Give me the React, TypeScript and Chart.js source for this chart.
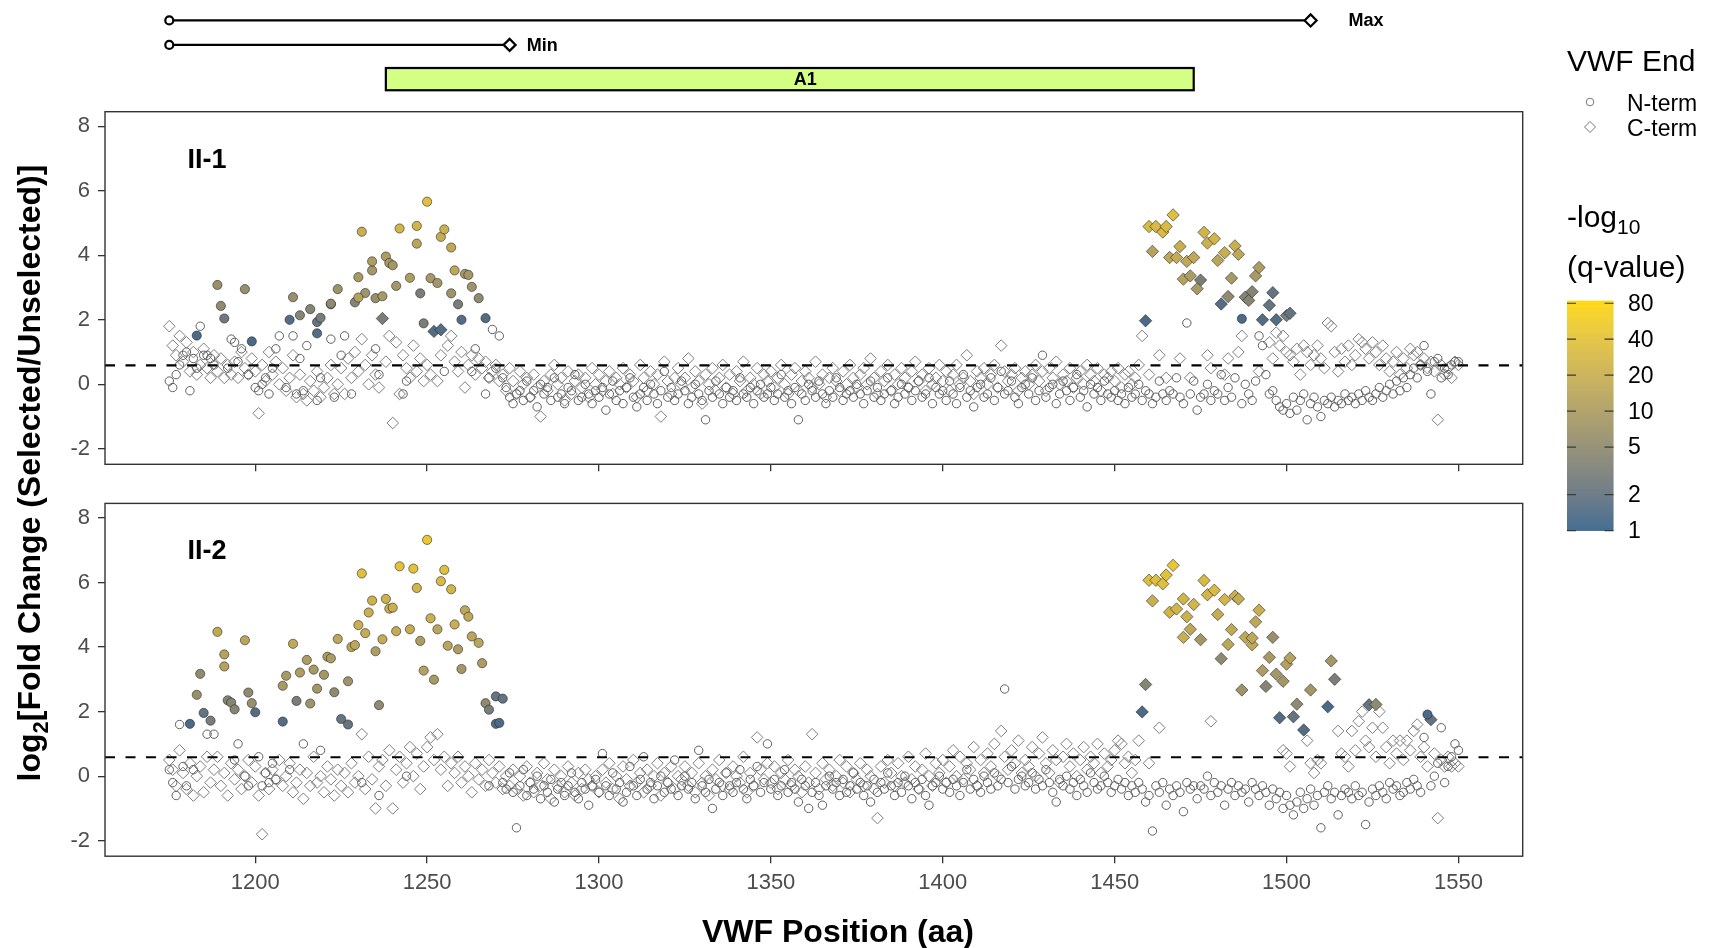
import React, { useEffect, useRef } from "react";
import { Chart, registerables } from "chart.js";

Chart.register(...registerables);

// ------------------------------------------------------------------ data
const _ = null;
const POS_START = 1175; // residue of index 0 in the per-residue background arrays
const X_TICKS = [1200, 1250, 1300, 1350, 1400, 1450, 1500, 1550];
const Y_TICKS = [-2, 0, 2, 4, 6, 8];
const Q_TICKS = [1, 2, 5, 10, 20, 40, 80];
const Q_LIMITS = [1, 84];
const THRESHOLD = 0.585;

const MAX_FRAGMENT = [1175, 1507];
const MIN_FRAGMENT = [1175, 1274];
const A1_DOMAIN = [1238, 1473];
const A1_LABEL_POS = 1360;
const MAX_LABEL_POS = 1518;
const MIN_LABEL_POS = 1279;
const PANEL_LABEL_POS = 1186;
const PANEL_LABEL_Y = 6.95;

// Panel II-1: non-significant points, one value per residue (null = none)
const P1_N_WHITE = [
  0.1,-0.1,0.3,0.6,0.9,1.0,-0.2,0.8,0.5,1.8,0.9,0.9,0.8,0.6,_,_,_,0.5,1.4,1.3,0.7,1.1,_,0.3,_,
  -0.1,-0.2,0.0,0.2,-0.3,0.5,1.1,1.5,_,-0.1,_,1.5,-0.3,0.8,-0.2,1.2,_,_,-0.5,0.2,_,_,1.4,-0.4,_,
  0.9,1.5,_,-0.3,_,_,_,_,_,_,1.1,0.3,_,_,_,_,_,_,-0.3,0.1,_,_,_,_,_,
  _,_,_,_,_,0.4,_,_,_,_,_,_,_,0.4,1.1,_,_,-0.3,0.2,1.7,0.5,1.5,0.2,-0.1,-0.4,
  -0.6,-0.3,-0.2,-0.5,0.1,-0.4,-0.2,-0.7,0.0,-0.3,-0.1,-0.5,0.2,-0.4,-0.3,-0.6,-0.1,-0.2,0.3,-0.5,-0.4,0.0,-0.3,-0.6,-0.2,
  -0.4,-0.1,-0.8,-0.3,0.1,-0.5,-0.2,-0.6,-0.1,0.2,-0.4,-0.7,-0.3,-0.1,-0.5,0.0,-0.3,-0.6,-0.2,0.4,-0.4,-0.1,-0.5,-0.3,0.1,
  -0.2,-0.6,-0.4,0.0,-0.3,-0.5,-1.1,-0.2,-0.4,0.1,-0.3,-0.6,-0.1,-0.4,-0.2,-0.5,0.2,-0.3,-0.4,-0.1,-0.6,-0.2,0.0,-0.4,-0.3,
  -0.1,-0.5,-0.3,0.3,-0.4,-0.2,-0.6,-0.1,-1.1,-0.3,-0.5,0.0,-0.2,-0.4,0.1,-0.3,-0.6,-0.2,-0.4,0.2,-0.1,-0.5,-0.3,-0.2,-0.4,
  0.0,-0.3,-0.6,-0.2,0.1,-0.4,-0.1,-0.5,-0.3,0.2,-0.2,-0.6,-0.4,0.0,-0.3,-0.1,-0.5,-0.2,0.1,-0.4,-0.3,0.2,-0.6,-0.1,-0.3,
  -0.2,-0.5,0.1,-0.3,-0.6,-0.1,0.3,-0.4,-0.2,-0.7,-0.1,0.0,-0.4,-0.3,0.2,-0.5,-0.1,0.4,-0.3,-0.2,0.1,-0.4,-0.6,-0.1,0.0,
  -0.3,0.2,-0.5,-0.2,0.9,-0.4,-0.1,0.0,-0.6,-0.3,0.1,-0.2,-0.5,-0.1,0.3,-0.4,-0.2,-0.7,0.0,-0.3,-0.1,-0.5,0.1,-0.3,-0.4,
  -0.2,-0.5,-0.3,-0.6,-0.1,-0.4,-0.3,0.0,-0.5,-0.2,-0.3,-0.6,-0.4,0.1,-0.3,-0.5,-0.2,-0.3,0.2,-0.4,-0.6,1.9,-0.3,0.1,-0.8,
  -0.4,-0.3,0.0,-0.5,-0.2,-0.3,0.3,-0.5,-0.1,-0.4,0.2,_,-0.6,0.0,-0.3,-0.5,0.1,1.5,1.2,0.3,-0.3,-0.2,-0.5,-0.7,-0.8,
  -0.6,-0.9,-0.4,-0.8,-0.5,-0.3,-1.1,-0.6,-0.4,-0.7,-1.0,-0.5,-0.6,-0.4,-0.7,-0.5,-0.6,-0.3,-0.5,-0.4,-0.6,-0.3,-0.5,-0.2,-0.4,
  -0.5,-0.3,-0.1,-0.4,-0.2,0.0,-0.3,0.1,-0.2,0.2,-0.1,0.3,0.5,0.2,0.6,1.2,0.4,-0.3,0.7,0.8,0.2,0.5,0.3,0.6,0.7,
  0.7,
];
const P1_C_WHITE = [
  1.8,1.2,0.9,1.5,0.7,1.3,0.4,1.0,0.3,0.6,1.1,0.5,0.2,0.9,0.4,0.8,0.2,0.6,0.3,0.7,0.2,1.0,0.5,0.3,0.8,
  0.4,-0.9,0.6,0.1,1.0,0.3,0.7,0.0,0.5,-0.2,0.2,0.9,-0.4,0.3,-0.3,-0.5,0.1,-0.2,0.4,-0.4,-0.1,0.2,0.6,-0.3,0.0,
  0.5,-0.3,0.8,0.2,1.0,0.4,1.4,0.6,0.0,0.9,0.3,-0.1,_,0.7,1.5,-1.2,1.3,-0.3,0.9,0.5,0.2,1.2,0.4,0.8,0.1,
  0.6,0.3,_,0.1,0.9,_,1.2,1.5,0.7,0.4,1.0,-0.1,0.6,0.9,0.3,0.8,0.5,0.7,0.2,0.4,0.6,0.1,0.3,-0.2,0.5,
  0.1,-0.3,0.4,0.0,0.2,-0.4,0.3,-0.1,-1.0,0.1,-0.2,0.3,0.6,0.0,0.2,-0.5,0.4,-0.3,0.1,0.3,-0.1,0.2,-0.4,0.5,0.0,
  0.3,-0.2,0.1,0.4,-0.3,0.2,0.0,0.5,-0.1,0.3,0.1,-0.4,0.6,0.2,-0.2,0.4,0.0,0.3,-1.0,0.7,0.1,-0.3,0.2,0.5,0.0,
  0.2,0.8,-0.1,0.4,0.1,-0.6,0.3,0.0,0.5,-0.2,0.2,0.6,-0.1,0.3,-0.3,0.4,0.1,0.7,-0.2,0.2,0.0,0.5,-0.3,0.3,0.1,
  0.4,-0.1,0.2,0.6,0.0,-0.3,0.3,0.5,-0.2,0.1,0.4,0.2,-0.1,0.7,0.0,0.3,-0.4,0.2,0.5,0.1,-0.2,0.4,0.0,0.6,0.2,
  -0.1,0.3,0.5,0.0,0.8,0.2,-0.3,0.4,0.1,0.6,-0.2,0.3,0.0,0.5,0.2,-0.1,0.4,0.7,0.1,0.3,-0.2,0.5,0.0,0.2,0.6,
  0.1,0.4,-0.2,0.3,0.6,0.0,0.2,0.9,0.1,-0.3,0.4,0.2,0.5,0.0,0.3,0.6,-0.1,1.2,0.4,0.1,0.3,0.5,-0.2,0.2,0.4,
  0.0,0.3,0.6,0.1,0.4,-0.2,0.5,0.2,0.7,0.0,0.3,0.1,0.5,-0.1,0.2,0.4,0.0,0.6,0.3,0.1,0.5,-0.2,0.3,0.2,0.4,
  0.1,0.5,-0.1,0.3,0.4,0.0,0.2,0.6,1.5,_,0.3,_,_,0.9,_,0.2,_,_,_,0.8,_,_,0.2,_,_,
  _,_,0.9,0.5,_,_,_,0.3,0.8,_,_,1.0,1.5,_,_,_,_,0.4,_,_,1.3,0.8,1.6,1.2,1.5,
  1.0,0.9,0.7,1.1,0.3,1.2,1.0,0.6,0.9,1.2,0.8,0.5,1.9,1.8,1.0,0.4,1.1,0.7,1.2,0.6,0.9,1.4,1.3,1.1,0.8,
  1.3,1.0,0.6,1.2,0.8,0.4,0.7,1.0,0.3,0.8,0.5,1.1,0.9,1.0,0.6,0.8,0.5,0.7,0.4,-1.1,0.6,0.3,0.5,0.2,0.7,
  0.6,
];
// Panel II-1: significant points (residue, log2 FC, -log10 q)
const P1_N_SIG_POS = [1183,1189,1190,1191,1197,1199,1210,1211,1213,1216,1218,1219,1218,1222,1222,1224,1229,1230,1231,1232,1234,1234,1230,1235,1237,1238,1239,1240,1241,1242,1245,1247,1247,1248,1249,1250,1251,1253,1254,1255,1257,1257,1258,1259,1260,1261,1262,1263,1265,1267,1487];
const P1_N_SIG_FC = [1.51,3.08,2.43,2.04,2.95,1.33,2.00,2.70,2.14,2.33,1.93,2.06,1.58,2.48,2.50,2.95,2.54,3.32,4.73,2.83,3.53,3.81,2.69,2.67,2.73,3.96,3.76,3.69,3.05,4.83,3.30,4.91,4.36,2.82,1.89,5.66,3.29,3.14,4.57,4.80,2.82,4.24,3.53,2.48,2.00,3.42,3.39,3.02,2.67,2.05,2.03];
const P1_N_SIG_Q = [1.3,6,5,2.5,6,1.3,1.5,6,4,4,2,3,1.5,5,5,7,4,9,20,7,8,10,12,6,9,10,9,8,8,25,10,25,14,3,3,35,9,8,18,22,7,16,15,3,1.5,9,8,7,5,1.5,1.3];
const P1_C_SIG_POS = [1237,1252,1254,1459,1460,1462,1464,1465,1467,1461,1466,1468,1469,1471,1473,1470,1472,1475,1474,1476,1477,1479,1480,1482,1485,1486,1484,1481,1483,1488,1489,1490,1491,1492,1496,1495,1493,1497,1500,1501];
const P1_C_SIG_FC = [2.04,1.64,1.69,1.97,4.89,4.89,4.72,4.89,5.25,4.12,3.93,3.93,4.27,3.81,3.93,3.26,3.36,3.23,2.96,4.71,4.38,4.51,3.84,4.08,4.29,4.03,3.29,2.49,2.72,2.70,2.60,2.87,3.36,3.62,2.84,2.45,2.00,2.00,2.13,2.20];
const P1_C_SIG_Q = [3,1.5,1.5,1.3,30,30,30,30,35,12,15,18,20,16,16,12,10,3,9,25,22,25,14,20,20,15,9,1.5,5,4,4,4,9,10,2,2,1.5,1.5,3,2];

// Panel II-2: non-significant points, one value per residue (null = none)
const P2_N_WHITE = [
  0.2,-0.2,-0.6,1.6,0.3,-0.3,_,0.2,_,_,_,1.3,_,1.3,_,_,_,_,_,0.5,1.0,_,0.0,-0.3,_,
  _,0.6,-0.3,0.1,-0.2,0.4,-0.1,_,_,_,0.2,_,_,_,1.0,_,_,_,_,0.8,_,_,_,_,_,
  _,_,_,_,_,_,-0.2,_,_,_,_,-0.6,_,_,_,_,_,_,_,0.0,_,_,_,_,_,
  _,_,_,_,_,_,_,_,_,_,_,_,_,_,_,_,_,_,-0.3,_,_,_,-0.2,-0.4,0.1,
  -0.5,-1.6,-0.3,0.2,-0.6,-0.2,-0.4,0.0,-0.7,-0.3,-0.5,-0.1,-0.8,-0.4,-0.2,-0.6,-0.3,0.1,-0.5,-0.7,-0.2,-0.4,-0.9,-0.3,-0.1,
  -0.5,0.7,-0.3,-0.6,0.1,-0.4,-0.2,-0.8,-0.5,0.3,-0.3,-0.6,-0.1,0.6,-0.4,-0.2,-0.7,-0.3,0.0,-0.5,-0.2,-0.4,0.5,-0.6,-0.3,
  0.0,-0.4,-0.2,-0.7,0.8,-0.3,-0.5,-0.1,-1.0,-0.4,-0.2,-0.6,0.1,-0.3,-0.5,-0.2,0.2,-0.4,-0.7,-0.1,-0.3,0.3,-0.5,-0.2,1.0,
  -0.4,-0.1,-0.6,-0.3,0.2,-0.5,-0.2,-0.4,-0.8,-0.1,-0.3,-1.0,-0.5,-0.2,-0.6,-0.9,-0.3,0.0,-0.4,-0.2,-0.6,-0.1,-0.5,-0.3,0.1,
  -0.4,-0.2,-0.6,-0.3,-0.8,-0.1,-0.5,-0.2,-0.4,0.1,-0.3,-0.6,-0.2,-0.5,0.0,-0.3,-0.7,-0.2,-0.4,-0.1,-0.6,-0.9,-0.3,-0.2,0.0,
  -0.4,-0.2,-0.5,-0.1,-0.3,-0.6,-0.2,0.2,-0.4,-0.1,-0.3,-0.5,0.0,-0.2,-0.4,0.1,-0.3,-0.1,2.7,-0.2,0.3,-0.4,-0.1,0.0,-0.3,
  -0.2,0.1,-0.4,-0.1,-0.3,0.2,-0.2,-0.5,-0.8,-0.1,-0.3,0.0,-0.4,-0.2,-0.6,-0.1,-0.3,-0.5,0.1,-0.2,-0.4,-0.3,0.0,-0.2,-0.5,
  -0.3,-0.1,-0.4,-0.2,-0.6,-0.3,-0.5,-0.2,-0.4,-0.8,-0.6,-1.7,-0.3,-0.5,-0.2,-0.9,-0.4,-0.6,-0.3,-0.5,-1.1,-0.2,-0.4,-0.3,-0.7,
  -0.3,-0.4,0.0,-0.6,-0.2,-0.5,-0.3,-0.9,-0.4,-0.2,-0.6,-0.3,-0.5,-0.4,-0.8,-0.2,-0.4,-0.6,-0.3,-0.5,-0.9,-0.4,-0.7,-0.5,-1.0,
  -0.6,-0.9,-1.2,-0.8,-0.5,-1.0,-0.7,-0.4,-0.9,-0.6,-1.6,-0.5,-0.3,-0.7,-0.5,-1.2,-0.6,-0.4,-0.5,-0.7,-0.3,-0.6,-0.5,-1.5,-0.8,
  -0.4,-0.6,-0.3,-0.5,-0.7,-0.2,-0.4,-0.3,-0.6,-0.5,-0.2,-0.4,-0.1,-0.3,-0.5,1.2,_,-0.3,0.0,0.4,1.5,-0.2,0.3,0.6,1.0,
  0.8,
];
const P2_C_WHITE = [
  0.5,0.2,-0.3,0.8,0.1,-0.4,0.4,-0.6,0.0,0.3,-0.5,0.6,-0.2,0.2,0.6,-0.3,0.1,-0.6,0.4,-0.1,0.2,-0.4,0.0,0.5,-0.2,
  0.3,-0.6,-1.8,0.1,-0.4,0.2,-0.1,0.5,-0.3,0.0,0.4,-0.5,-0.2,0.2,-0.7,0.1,-0.3,0.6,-0.2,0.0,-0.5,0.3,-0.1,-0.6,0.2,
  -0.3,0.1,-0.5,0.4,-0.2,0.0,1.3,-0.4,0.6,-0.1,-1.0,0.3,0.5,-0.3,0.8,-1.0,0.2,0.6,-0.2,0.4,0.9,0.0,0.7,-0.4,0.3,
  0.9,1.2,0.5,1.3,0.2,0.6,-0.3,0.4,0.1,0.6,-0.2,0.3,0.0,-0.5,0.4,-0.1,0.2,-0.3,0.5,0.1,-0.2,0.3,-0.4,0.0,-0.3,
  0.2,-0.4,0.0,-0.6,0.3,-0.2,-0.5,0.1,-0.3,0.4,-0.1,-0.7,0.2,-0.3,0.0,-0.5,0.3,-0.2,-0.6,0.1,-0.4,0.2,-0.1,-0.3,0.0,
  -0.5,0.2,-0.2,0.4,-0.4,0.0,-0.7,0.3,-0.1,-0.3,0.5,-0.2,0.1,-0.5,0.2,-0.3,0.0,0.4,-0.6,0.1,-0.2,0.3,-0.4,0.0,-0.1,
  0.3,-0.3,0.1,-0.5,0.4,-0.2,0.0,-0.6,0.2,-0.1,0.5,-0.3,0.1,-0.4,0.3,0.0,-0.2,0.6,-0.5,0.1,-0.3,1.2,0.2,-0.1,0.4,
  -0.2,0.3,-0.4,0.1,-0.1,0.5,-0.3,0.2,0.0,-0.5,0.3,-0.2,1.3,0.1,-0.4,0.4,-0.1,0.2,-0.3,0.0,0.5,-0.2,0.3,-0.5,0.1,
  -0.1,0.4,-0.3,0.2,0.0,-0.4,-1.3,0.3,-0.2,0.5,0.1,-0.3,0.4,0.0,-0.2,0.6,-0.1,0.3,-0.4,0.2,0.7,0.0,-0.3,0.4,0.1,
  0.5,-0.2,0.3,0.8,0.0,0.6,-0.1,0.4,0.2,0.9,-0.3,0.5,0.1,0.7,0.3,1.0,0.0,1.4,0.6,0.2,0.8,0.4,1.1,0.1,0.5,
  0.3,0.9,0.0,0.7,1.2,0.4,0.1,0.8,0.5,-0.2,0.6,1.0,0.3,0.7,0.0,0.5,0.9,0.2,0.6,0.4,1.0,0.1,0.7,0.3,0.5,
  0.8,1.1,1.0,0.4,0.6,0.1,0.5,1.1,_,_,0.4,_,_,1.5,_,_,_,_,_,_,_,_,_,_,_,
  _,_,_,1.7,_,_,_,_,_,_,_,_,_,_,_,_,_,_,_,_,_,_,_,_,0.8,
  0.7,0.3,_,_,_,_,1.1,0.4,0.1,0.5,0.4,_,_,_,_,1.4,0.7,0.6,0.3,1.4,0.8,1.7,2.0,1.1,0.9,
  1.5,0.6,2.0,1.5,0.9,0.4,1.1,0.7,1.1,0.5,1.1,0.8,1.4,1.6,0.6,0.9,0.3,_,0.7,-1.3,0.5,0.3,0.6,0.3,0.4,
  0.3,
];
// Panel II-2: significant points
const P2_N_SIG_POS = [1181,1183,1184,1185,1187,1189,1191,1191,1192,1193,1194,1197,1198,1199,1200,1208,1208,1209,1211,1212,1213,1215,1216,1217,1218,1220,1221,1222,1223,1224,1225,1227,1227,1228,1229,1230,1231,1232,1233,1234,1235,1236,1237,1238,1239,1240,1241,1242,1245,1246,1247,1248,1249,1250,1251,1252,1253,1254,1255,1256,1257,1258,1259,1260,1261,1262,1263,1265,1266,1267,1268,1270,1272,1270,1271,1541];
const P2_N_SIG_FC = [1.62,2.52,3.17,1.96,1.72,4.47,3.77,3.40,2.35,2.28,2.07,4.21,2.59,2.26,1.98,1.69,2.80,3.11,4.10,2.33,3.21,3.60,2.25,3.30,2.71,3.14,3.70,3.65,2.60,4.25,1.77,2.94,1.60,4.00,4.06,4.68,6.28,4.43,5.07,5.44,3.87,2.20,4.24,5.49,5.19,5.22,4.49,6.50,4.55,6.43,5.83,4.19,3.27,7.32,4.89,2.99,4.55,6.04,6.39,4.04,5.79,4.70,3.93,3.32,5.14,4.94,4.33,4.13,3.50,2.26,2.06,2.47,2.40,1.62,1.65,1.91];
const P2_N_SIG_Q = [1.3,6,5,2,3,16,12,12,4,4,4,14,5,6,1.5,1.5,9,9,16,3,10,10,7,9,8,8,10,10,5,15,2,7,2,15,15,20,35,18,20,22,10,5,18,22,20,20,18,40,18,40,25,10,12,50,20,9,14,30,35,14,25,20,10,8,15,15,14,14,10,5,3,2,2,1.5,1.3,1.3];
const P2_C_SIG_POS = [1458,1459,1460,1462,1464,1465,1467,1461,1466,1468,1470,1471,1473,1472,1470,1475,1476,1477,1479,1482,1480,1481,1483,1484,1485,1486,1487,1488,1490,1490,1491,1492,1493,1494,1495,1496,1497,1499,1500,1501,1498,1502,1503,1505,1507,1512,1513,1514,1524,1526,1542];
const P2_C_SIG_FC = [1.99,2.84,6.07,6.07,5.96,6.23,6.53,5.43,5.08,5.18,5.49,4.94,5.32,4.55,4.30,4.23,6.06,5.62,5.76,5.47,5.01,3.64,4.08,4.54,5.58,5.49,2.67,4.30,4.07,4.28,4.78,5.14,3.27,2.78,3.68,4.30,3.16,2.94,3.47,3.66,1.81,1.84,2.23,1.43,2.67,2.15,3.57,3.00,2.21,2.22,1.75];
const P2_C_SIG_Q = [1.3,4,35,35,35,40,45,20,25,25,25,22,25,15,20,8,30,25,30,25,18,5,15,16,20,18,7,16,16,15,15,20,10,4,9,6,8,8,12,12,1.5,2,5,1.5,8,1.3,8,3,2,5,2];

// ------------------------------------------------------------------ layout / style
const W = 1711;
const H = 948;
const FONT = "'Liberation Sans', Arial, Helvetica, sans-serif";
const PLOT_LEFT = 105;
const PLOT_RIGHT = 1522.7;
const P1_TOP = 111.7;
const P1_BOTTOM = 464.3;
const P2_TOP = 503.4;
const P2_BOTTOM = 856.2;
const X_AXIS_H = 45;
const X_MIN = 1156.3;
const X_MAX = 1568.7;
const Y_MIN = -2.48;
const Y_MAX = 8.45;
const TOP_Y_MAX = 3.5;
const TOP_AREA_TOP = 5.95;
const TOP_AREA_BOTTOM = 93.8;
const ROW_MAX = 3;
const ROW_MIN = 2;
const ROW_A1 = 0.6;
const AXIS_GREY = "#333333";
const TICK_TEXT = "#4D4D4D";
const Y_TITLE_CENTER = 473;

// colour scale (Lab interpolation, steelblue4 -> gold, log of -log10 q)
function hex2rgb(h: string) {
  const n = parseInt(h.slice(1), 16);
  return [(n >> 16) & 255, (n >> 8) & 255, n & 255];
}
function toLin(c: number) {
  c /= 255;
  return c <= 0.04045 ? c / 12.92 : Math.pow((c + 0.055) / 1.055, 2.4);
}
function fromLin(c: number) {
  const v = c <= 0.0031308 ? 12.92 * c : 1.055 * Math.pow(Math.max(c, 0), 1 / 2.4) - 0.055;
  return Math.round(Math.max(0, Math.min(1, v)) * 255);
}
function rgb2lab(rgb: number[]) {
  const R = toLin(rgb[0]), G = toLin(rgb[1]), B = toLin(rgb[2]);
  const X = (0.4124 * R + 0.3576 * G + 0.1805 * B) / 0.95047;
  const Y = 0.2126 * R + 0.7152 * G + 0.0722 * B;
  const Z = (0.0193 * R + 0.1192 * G + 0.9505 * B) / 1.08883;
  const f = (t: number) => (t > 0.008856 ? Math.cbrt(t) : 7.787 * t + 16 / 116);
  const fx = f(X), fy = f(Y), fz = f(Z);
  return [116 * fy - 16, 500 * (fx - fy), 200 * (fy - fz)];
}
function lab2rgb(lab: number[]) {
  const fy = (lab[0] + 16) / 116, fx = fy + lab[1] / 500, fz = fy - lab[2] / 200;
  const inv = (t: number) => (t * t * t > 0.008856 ? t * t * t : (t - 16 / 116) / 7.787);
  const X = inv(fx) * 0.95047, Y = inv(fy), Z = inv(fz) * 1.08883;
  const R = 3.2406 * X - 1.5372 * Y - 0.4986 * Z;
  const G = -0.9689 * X + 1.8758 * Y + 0.0415 * Z;
  const B = 0.0557 * X - 0.204 * Y + 1.057 * Z;
  return [fromLin(R), fromLin(G), fromLin(B)];
}
const LOW_LAB = rgb2lab(hex2rgb("#36648B"));
const HIGH_LAB = rgb2lab(hex2rgb("#FFD700"));
function qFraction(q: number) {
  const t = (Math.log(q) - Math.log(Q_LIMITS[0])) / (Math.log(Q_LIMITS[1]) - Math.log(Q_LIMITS[0]));
  return Math.max(0, Math.min(1, t));
}
function colorAt(t: number) {
  const lab = [0, 1, 2].map((k) => LOW_LAB[k] + (HIGH_LAB[k] - LOW_LAB[k]) * t);
  const c = lab2rgb(lab);
  return `rgb(${c[0]},${c[1]},${c[2]})`;
}
const qColor = (q: number) => colorAt(qFraction(q));

// ------------------------------------------------------------------ helpers
function whitePoints(values: (number | null)[]) {
  const out: { x: number; y: number }[] = [];
  values.forEach((v, i) => {
    if (v !== null && v !== undefined) out.push({ x: POS_START + i, y: v });
  });
  return out;
}
function sigPoints(pos: number[], fc: number[]) {
  return pos.map((x, i) => ({ x, y: fc[i] }));
}

const panelDecor = {
  id: "panelDecor",
  afterDatasetsDraw(chart: any, _args: any, opts: any) {
    const { ctx, chartArea: a, scales } = chart;
    const x = scales.x, y = scales.y;
    ctx.save();
    ctx.beginPath();
    ctx.rect(a.left, a.top, a.right - a.left, a.bottom - a.top);
    ctx.clip();
    ctx.setLineDash([10, 10.5]);
    ctx.strokeStyle = "#000";
    ctx.lineWidth = 2.2;
    const yy = y.getPixelForValue(THRESHOLD);
    ctx.beginPath();
    ctx.moveTo(a.left, yy);
    ctx.lineTo(a.right, yy);
    ctx.stroke();
    ctx.restore();

    ctx.save();
    ctx.fillStyle = "#000";
    ctx.font = `bold 27px ${FONT}`;
    ctx.textAlign = "center";
    ctx.textBaseline = "middle";
    ctx.fillText(opts.label, x.getPixelForValue(PANEL_LABEL_POS), y.getPixelForValue(PANEL_LABEL_Y));
    ctx.restore();
  },
  afterDraw(chart: any) {
    const { ctx, chartArea: a } = chart;
    ctx.save();
    ctx.strokeStyle = AXIS_GREY;
    ctx.lineWidth = 1.4;
    ctx.strokeRect(a.left, a.top, a.right - a.left, a.bottom - a.top);
    ctx.restore();
  },
};

function panelConfig(p: any) {
  const sigN = sigPoints(p.nPos, p.nFc);
  const sigC = sigPoints(p.cPos, p.cFc);
  const gridOpts = { drawOnChartArea: false, drawTicks: true, tickLength: 7, color: AXIS_GREY, lineWidth: 1.3 };
  return {
    type: "scatter",
    data: {
      datasets: [
        {
          label: "N-term significant",
          data: sigN,
          pointStyle: "circle",
          pointRadius: 4.6,
          pointBackgroundColor: p.nQ.map(qColor),
          pointBorderColor: "rgba(30,30,30,0.7)",
          pointBorderWidth: 0.8,
        },
        {
          label: "C-term significant",
          data: sigC,
          pointStyle: "rectRot",
          pointRadius: 6.2,
          pointBackgroundColor: p.cQ.map(qColor),
          pointBorderColor: "rgba(30,30,30,0.7)",
          pointBorderWidth: 0.8,
        },
        {
          label: "N-term",
          data: whitePoints(p.nWhite),
          pointStyle: "circle",
          pointRadius: 4.2,
          pointBackgroundColor: "rgba(0,0,0,0)",
          pointBorderColor: "#5e5e5e",
          pointBorderWidth: 1,
        },
        {
          label: "C-term",
          data: whitePoints(p.cWhite),
          pointStyle: "rectRot",
          pointRadius: 5.8,
          pointBackgroundColor: "rgba(0,0,0,0)",
          pointBorderColor: "#7c7c7c",
          pointBorderWidth: 1,
        },
      ],
    },
    options: {
      animation: false,
      responsive: false,
      devicePixelRatio: 1,
      events: [],
      layout: {
        padding: { left: 0, top: p.top, right: W - PLOT_RIGHT, bottom: H - p.bottom - X_AXIS_H },
      },
      plugins: {
        legend: { display: false },
        tooltip: { enabled: false },
        panelDecor: { label: p.label },
      },
      scales: {
        x: {
          type: "linear",
          min: X_MIN,
          max: X_MAX,
          afterBuildTicks: (s: any) => {
            s.ticks = X_TICKS.map((v) => ({ value: v }));
          },
          afterFit: (s: any) => {
            s.height = X_AXIS_H;
          },
          grid: gridOpts,
          border: { display: false },
          ticks: {
            autoSkip: false,
            maxRotation: 0,
            padding: 7,
            color: TICK_TEXT,
            font: { family: FONT, size: 22 },
            callback: (v: any) => (p.showX ? String(v) : ""),
          },
        },
        y: {
          type: "linear",
          min: Y_MIN,
          max: Y_MAX,
          afterBuildTicks: (s: any) => {
            s.ticks = Y_TICKS.map((v) => ({ value: v }));
          },
          afterFit: (s: any) => {
            s.width = PLOT_LEFT;
          },
          grid: gridOpts,
          border: { display: false },
          ticks: {
            padding: 8,
            color: TICK_TEXT,
            font: { family: FONT, size: 22 },
            callback: (v: any) => String(v),
          },
        },
      },
    },
    plugins: [panelDecor],
  };
}

// top annotation + page texts / legends
const topDecor = {
  id: "topDecor",
  beforeDatasetsDraw(chart: any) {
    const { ctx, scales } = chart;
    const x = scales.x, y = scales.y;
    const x0 = x.getPixelForValue(A1_DOMAIN[0]);
    const x1 = x.getPixelForValue(A1_DOMAIN[1]);
    const y0 = y.getPixelForValue(ROW_A1 + 0.455);
    const y1 = y.getPixelForValue(ROW_A1 - 0.455);
    ctx.save();
    ctx.fillStyle = "#D5FE84";
    ctx.fillRect(x0, y0, x1 - x0, y1 - y0);
    ctx.strokeStyle = "#000";
    ctx.lineWidth = 2.2;
    ctx.strokeRect(x0, y0, x1 - x0, y1 - y0);
    ctx.fillStyle = "#000";
    ctx.font = `bold 18px ${FONT}`;
    ctx.textAlign = "center";
    ctx.textBaseline = "middle";
    ctx.fillText("A1", x.getPixelForValue(A1_LABEL_POS), y.getPixelForValue(ROW_A1) + 1);
    ctx.restore();
  },
  afterDatasetsDraw(chart: any) {
    const { ctx, scales } = chart;
    const x = scales.x, y = scales.y;
    ctx.save();
    ctx.fillStyle = "#000";
    ctx.font = `bold 18px ${FONT}`;
    ctx.textAlign = "left";
    ctx.textBaseline = "middle";
    ctx.fillText("Max", x.getPixelForValue(MAX_LABEL_POS), y.getPixelForValue(ROW_MAX) + 1);
    ctx.fillText("Min", x.getPixelForValue(MIN_LABEL_POS), y.getPixelForValue(ROW_MIN) + 1);
    ctx.restore();
  },
};

const pageDecor = {
  id: "pageDecor",
  afterDraw(chart: any) {
    const ctx = chart.ctx;
    ctx.save();
    ctx.fillStyle = "#000";
    ctx.textAlign = "left";
    ctx.textBaseline = "alphabetic";

    // y axis title
    ctx.save();
    ctx.translate(28, Y_TITLE_CENTER);
    ctx.rotate(-Math.PI / 2);
    const parts = [
      { t: "log", f: `bold 32px ${FONT}`, dy: 0 },
      { t: "2", f: `bold 22px ${FONT}`, dy: 8 },
      { t: "[Fold Change (Selected/Unselected)]", f: `bold 32px ${FONT}`, dy: 0 },
    ];
    let total = 0;
    parts.forEach((pt) => {
      ctx.font = pt.f;
      total += ctx.measureText(pt.t).width;
    });
    let cx = -total / 2;
    parts.forEach((pt) => {
      ctx.font = pt.f;
      ctx.fillText(pt.t, cx, 12 + pt.dy);
      cx += ctx.measureText(pt.t).width;
    });
    ctx.restore();

    // x axis title
    ctx.font = `bold 32px ${FONT}`;
    ctx.textAlign = "center";
    ctx.fillText("VWF Position (aa)", 838, 942);
    ctx.textAlign = "left";

    // shape legend
    ctx.font = `30px ${FONT}`;
    ctx.fillText("VWF End", 1567, 71);
    ctx.strokeStyle = "#777";
    ctx.lineWidth = 1;
    ctx.beginPath();
    ctx.arc(1590, 102, 3.8, 0, Math.PI * 2);
    ctx.stroke();
    ctx.beginPath();
    ctx.moveTo(1590, 121.5);
    ctx.lineTo(1595.5, 127);
    ctx.lineTo(1590, 132.5);
    ctx.lineTo(1584.5, 127);
    ctx.closePath();
    ctx.stroke();
    ctx.font = `23px ${FONT}`;
    ctx.fillText("N-term", 1627, 111);
    ctx.fillText("C-term", 1627, 136);

    // colour legend title
    ctx.font = `30px ${FONT}`;
    ctx.fillText("-log", 1567, 227);
    const wl = ctx.measureText("-log").width;
    ctx.font = `21px ${FONT}`;
    ctx.fillText("10", 1567 + wl, 234);
    ctx.font = `30px ${FONT}`;
    ctx.fillText("(q-value)", 1567, 277);

    // colour bar
    const cbL = 1567, cbR = 1613.5, cbT = 300.7, cbB = 530.7;
    for (let yy = cbT; yy < cbB; yy += 1) {
      ctx.fillStyle = colorAt((cbB - yy - 0.5) / (cbB - cbT));
      ctx.fillRect(cbL, yy, cbR - cbL, 1.2);
    }
    ctx.strokeStyle = "#3a3a3a";
    ctx.lineWidth = 1.2;
    ctx.fillStyle = "#000";
    ctx.font = `23px ${FONT}`;
    ctx.textBaseline = "middle";
    Q_TICKS.forEach((q) => {
      const yy = cbB - qFraction(q) * (cbB - cbT);
      ctx.beginPath();
      ctx.moveTo(cbL, yy);
      ctx.lineTo(cbL + 9, yy);
      ctx.moveTo(cbR - 9, yy);
      ctx.lineTo(cbR, yy);
      ctx.stroke();
      ctx.fillText(String(q), 1628, yy + 1);
    });
    ctx.restore();
  },
};

function fragmentDataset(range: number[], row: number, label: string) {
  return {
    type: "line",
    label,
    data: [
      { x: range[0], y: row },
      { x: range[1], y: row },
    ],
    showLine: true,
    borderColor: "#000",
    borderWidth: 2.2,
    pointStyle: ["circle", "rectRot"],
    pointRadius: [4, 6],
    pointBackgroundColor: "#fff",
    pointBorderColor: "#000",
    pointBorderWidth: 2.2,
    clip: false,
  };
}

function topConfig() {
  return {
    type: "scatter",
    data: {
      datasets: [fragmentDataset(MAX_FRAGMENT, ROW_MAX, "Max"), fragmentDataset(MIN_FRAGMENT, ROW_MIN, "Min")],
    },
    options: {
      animation: false,
      responsive: false,
      devicePixelRatio: 1,
      events: [],
      layout: {
        padding: { left: PLOT_LEFT, right: W - PLOT_RIGHT, top: TOP_AREA_TOP, bottom: H - TOP_AREA_BOTTOM },
      },
      plugins: { legend: { display: false }, tooltip: { enabled: false } },
      scales: {
        x: { type: "linear", min: X_MIN, max: X_MAX, display: false },
        y: { type: "linear", min: 0, max: TOP_Y_MAX, display: false },
      },
    },
    plugins: [topDecor, pageDecor],
  };
}

const PANEL1 = {
  label: "II-1",
  top: P1_TOP,
  bottom: P1_BOTTOM,
  showX: false,
  nPos: P1_N_SIG_POS,
  nFc: P1_N_SIG_FC,
  nQ: P1_N_SIG_Q,
  cPos: P1_C_SIG_POS,
  cFc: P1_C_SIG_FC,
  cQ: P1_C_SIG_Q,
  nWhite: P1_N_WHITE,
  cWhite: P1_C_WHITE,
};
const PANEL2 = {
  label: "II-2",
  top: P2_TOP,
  bottom: P2_BOTTOM,
  showX: true,
  nPos: P2_N_SIG_POS,
  nFc: P2_N_SIG_FC,
  nQ: P2_N_SIG_Q,
  cPos: P2_C_SIG_POS,
  cFc: P2_C_SIG_FC,
  cQ: P2_C_SIG_Q,
  nWhite: P2_N_WHITE,
  cWhite: P2_C_WHITE,
};

export default function App() {
  const topRef = useRef<HTMLCanvasElement>(null);
  const p1Ref = useRef<HTMLCanvasElement>(null);
  const p2Ref = useRef<HTMLCanvasElement>(null);

  useEffect(() => {
    const charts: Chart[] = [];
    if (topRef.current) charts.push(new Chart(topRef.current, topConfig() as any));
    if (p1Ref.current) charts.push(new Chart(p1Ref.current, panelConfig(PANEL1) as any));
    if (p2Ref.current) charts.push(new Chart(p2Ref.current, panelConfig(PANEL2) as any));
    return () => charts.forEach((c) => c.destroy());
  }, []);

  const cs: React.CSSProperties = { position: "absolute", left: 0, top: 0, width: W, height: H };
  return (
    <div style={{ position: "fixed", left: 0, top: 0, width: W, height: H, background: "#fff", overflow: "hidden" }}>
      <canvas ref={topRef} width={W} height={H} style={cs} />
      <canvas ref={p1Ref} width={W} height={H} style={cs} />
      <canvas ref={p2Ref} width={W} height={H} style={cs} />
    </div>
  );
}
